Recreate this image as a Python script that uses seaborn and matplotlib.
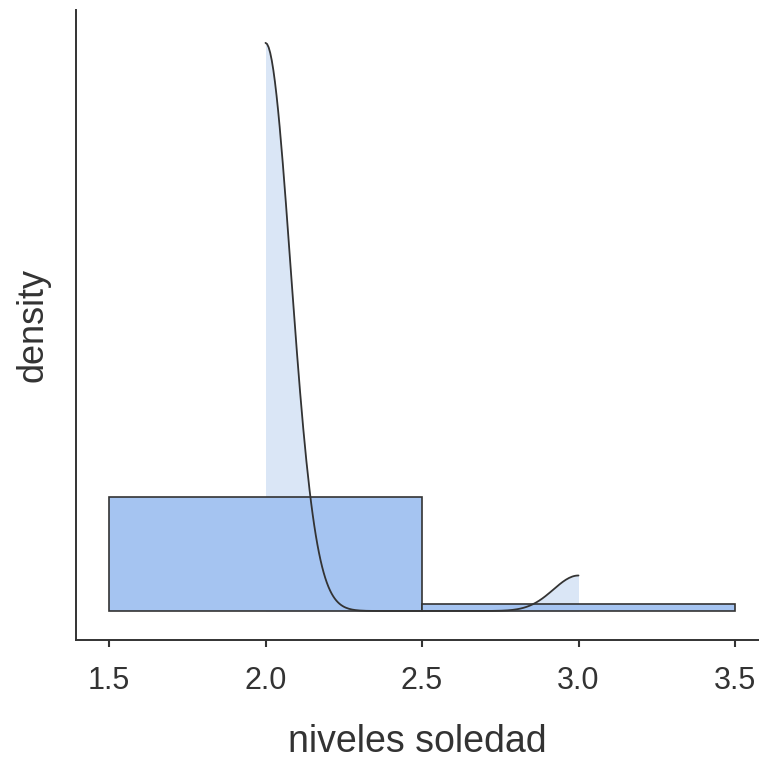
import matplotlib
matplotlib.use("Agg")
import matplotlib.pyplot as plt
import seaborn as sns

# Observaciones (niveles de soledad): 16 valores en 2.0 y uno en 3.0
soledad = [2.0, 2.0, 2.0, 2.0, 2.0, 2.0, 2.0, 2.0,
           2.0, 2.0, 2.0, 2.0, 2.0, 2.0, 2.0, 2.0, 3.0]
bin_edges = [1.5, 2.5, 3.5]
x_ticks = [1.5, 2.0, 2.5, 3.0, 3.5]
x_tick_labels = ["1.5", "2.0", "2.5", "3.0", "3.5"]

BAR_COLOR = "#a5c4f1"
KDE_FILL = "#dae6f6"
INK = "#333333"

sns.set_style("ticks")
plt.rcParams["font.family"] = ["Liberation Sans", "DejaVu Sans"]

fig = plt.figure(figsize=(7.59, 7.62), dpi=100)
ax = fig.add_axes([76 / 759, 122 / 762, 1 - 76 / 759, (640 - 10) / 762])

# relleno de la densidad (debajo del histograma)
sns.kdeplot(x=soledad, bw_method=0.33, cut=0, fill=True, color=KDE_FILL,
            alpha=1, linewidth=0, ax=ax, zorder=1)
sns.histplot(x=soledad, bins=bin_edges, stat="density", color=BAR_COLOR,
             alpha=1, edgecolor=INK, linewidth=1.2, ax=ax, zorder=2)
# curva de densidad encima
sns.kdeplot(x=soledad, bw_method=0.33, cut=0, fill=False, color=INK,
            linewidth=1.3, ax=ax, zorder=3)

ax.set_xlim(1.5 - 33 / 313, 3.5 + 24 / 313)
ax.set_ylim(-29 / 121.1, 601 / 121.1)

ax.set_xticks(x_ticks)
ax.set_xticklabels(x_tick_labels)
ax.set_yticks([])
ax.tick_params(axis="x", length=5, width=1.5, color=INK, labelsize=22,
               labelcolor=INK, pad=14)

ax.set_xlabel("niveles soledad", fontsize=27, color=INK, labelpad=20)
ax.set_ylabel("density", fontsize=26, color=INK, labelpad=18)

for side in ["top", "right"]:
    ax.spines[side].set_visible(False)
for side in ["left", "bottom"]:
    ax.spines[side].set_color(INK)
    ax.spines[side].set_linewidth(1.4)

fig.savefig("out.png", dpi=100)
plt.close(fig)
